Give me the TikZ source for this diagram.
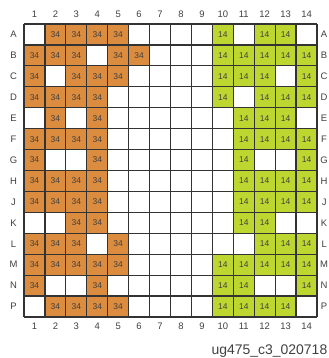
\documentclass[tikz,border=0pt]{standalone}
\usepackage{fontspec}
\setmainfont{Liberation Sans}
\definecolor{bankorange}{RGB}{219,140,62}
\definecolor{bankgreen}{RGB}{190,214,48}
\tikzset{
  ballcell/.style={draw=black!80, line width=1.2bp, minimum size=20.93bp, inner sep=0pt, font=\fontsize{8.5}{9}\selectfont, text=black!75},
  io34/.style={ballcell, fill=bankorange},
  io14/.style={ballcell, fill=bankgreen},
  ballnum/.style={font=\fontsize{9.5}{10}\selectfont, text=black!75, inner sep=0pt},
  gridline/.style={draw=black!80, line width=1.2bp}
}

\begin{document}
\begin{tikzpicture}[x=20.93bp, y=-20.93bp]
\useasboundingbox (-0.647,-0.647) rectangle (15.025,16.458);
% empty grid
\foreach \k in {0,...,14} {
  \draw[gridline] (\k+0.5,0.5) -- (\k+0.5,14.5);
  \draw[gridline] (0.5,\k+0.5) -- (14.5,\k+0.5);
}
% row and column names
\foreach \r [count=\i] in {A,B,C,D,E,F,G,H,J,K,L,M,N,P} {
  \node[ballnum] (left\r) at (0,\i) {\r};
  \node[ballnum] (right\r) at (14.84,\i) {\r};
}
\foreach \c in {1,...,14} {
  \node[ballnum] (top\c) at (\c,0.03) {\c};
  \node[ballnum] (bot\c) at (\c,14.96) {\c};
}
% bank 34
\foreach \c in {2,3,4,5} \node[io34] (A-\c) at (\c,1) {34};
\foreach \c in {1,2,3,5,6} \node[io34] (B-\c) at (\c,2) {34};
\foreach \c in {1,3,4,5} \node[io34] (C-\c) at (\c,3) {34};
\foreach \c in {1,2,3,4} \node[io34] (D-\c) at (\c,4) {34};
\foreach \c in {2,4} \node[io34] (E-\c) at (\c,5) {34};
\foreach \c in {1,2,3,4} \node[io34] (F-\c) at (\c,6) {34};
\foreach \c in {1,4} \node[io34] (G-\c) at (\c,7) {34};
\foreach \c in {1,2,3,4} \node[io34] (H-\c) at (\c,8) {34};
\foreach \c in {1,2,3,4} \node[io34] (J-\c) at (\c,9) {34};
\foreach \c in {3,4} \node[io34] (K-\c) at (\c,10) {34};
\foreach \c in {1,2,3,5} \node[io34] (L-\c) at (\c,11) {34};
\foreach \c in {1,2,3,4,5} \node[io34] (M-\c) at (\c,12) {34};
\foreach \c in {1,4} \node[io34] (N-\c) at (\c,13) {34};
\foreach \c in {2,3,4,5} \node[io34] (P-\c) at (\c,14) {34};
% bank 14
\foreach \c in {10,12,13} \node[io14] (A-\c) at (\c,1) {14};
\foreach \c in {10,11,12,13,14} \node[io14] (B-\c) at (\c,2) {14};
\foreach \c in {10,11,12,14} \node[io14] (C-\c) at (\c,3) {14};
\foreach \c in {10,12,13,14} \node[io14] (D-\c) at (\c,4) {14};
\foreach \c in {11,12,13} \node[io14] (E-\c) at (\c,5) {14};
\foreach \c in {11,12,13,14} \node[io14] (F-\c) at (\c,6) {14};
\foreach \c in {11,14} \node[io14] (G-\c) at (\c,7) {14};
\foreach \c in {11,12,13,14} \node[io14] (H-\c) at (\c,8) {14};
\foreach \c in {11,12,13,14} \node[io14] (J-\c) at (\c,9) {14};
\foreach \c in {11,12} \node[io14] (K-\c) at (\c,10) {14};
\foreach \c in {12,13,14} \node[io14] (L-\c) at (\c,11) {14};
\foreach \c in {10,11,12,13,14} \node[io14] (M-\c) at (\c,12) {14};
\foreach \c in {10,11,14} \node[io14] (N-\c) at (\c,13) {14};
\foreach \c in {10,11,12,13} \node[io14] (P-\c) at (\c,14) {14};
\node[anchor=east, inner sep=0pt, font=\fontsize{14}{15}\selectfont, text=black!75] (figid) at (15.0,16.12) {ug475\_c3\_020718};
\end{tikzpicture}
\end{document}
